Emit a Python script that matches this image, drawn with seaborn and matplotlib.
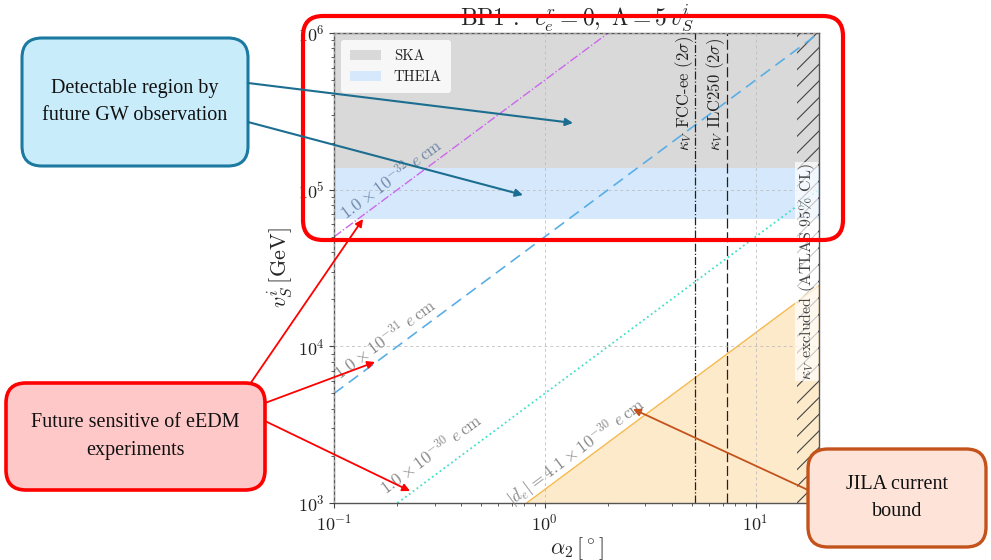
import numpy as np
import pandas as pd
import matplotlib
matplotlib.use('Agg')
import matplotlib.pyplot as plt
import matplotlib.transforms as mtransforms
from matplotlib.patches import FancyBboxPatch, FancyArrowPatch
import seaborn as sns

# axis ranges
alpha_lim = [0.1, 20.0]
vs_lim = [1e3, 1e6]

# GW detectable bands, v_S^i in GeV
ska_band = [1.37e5, 1e6]
theia_band = [6.5e4, 1.37e5]

# future eEDM sensitivity lines (end points)
edm_labels = [r'$1.0 \times 10^{-32}\ e\,\mathrm{cm}$',
              r'$1.0 \times 10^{-31}\ e\,\mathrm{cm}$',
              r'$1.0 \times 10^{-30}\ e\,\mathrm{cm}$']
edm_alpha = [[0.1, 2.0], [0.1, 20.0], [0.2, 20.0]]
edm_vs = [[5e4, 1e6], [5e3, 1e6], [1e3, 1e5]]

# JILA current bound |d_e| = 4.1e-30 e cm
jila_label = r'$|d_e| = 4.1 \times 10^{-30}\ e\,\mathrm{cm}$'
jila_alpha = [0.82, 20.0]
jila_vs = [1e3, 2.44e4]

# kappa_V reach of colliders and ATLAS exclusion (alpha_2 in degrees)
fcc_alpha = 5.15
ilc_alpha = 7.3
atlas_alpha = 15.7


def px_transform(fig):
    # figure pixels, origin top-left
    return mtransforms.Affine2D().scale(0.01, -0.01).translate(0, 5.6) + fig.dpi_scale_trans


def add_box(fig, x0, y0, x1, y1, face, edge, lw, text, fs=14.5):
    tr = px_transform(fig)
    box = FancyBboxPatch((x0, y0), x1 - x0, y1 - y0,
                         boxstyle='round,pad=0,rounding_size=20',
                         fc=face, ec=edge, lw=lw, transform=tr)
    fig.add_artist(box)
    if text:
        fig.text((x0 + x1) / 2, (y0 + y1) / 2, text, transform=tr, ha='center', va='center',
                 fontsize=fs, family='Liberation Serif', linespacing=1.6, color='#111')


def add_arrow(fig, p0, p1, color, lw=1.5):
    fig.add_artist(FancyArrowPatch(p0, p1, transform=px_transform(fig), arrowstyle='-|>',
                                   mutation_scale=11, color=color, lw=lw,
                                   shrinkA=0, shrinkB=0))


def main():
    sns.set_style('ticks')
    plt.rcParams['font.family'] = ['serif']
    plt.rcParams['font.serif'] = ['cmr10', 'DejaVu Serif']
    plt.rcParams['mathtext.fontset'] = 'cm'
    plt.rcParams['axes.formatter.use_mathtext'] = True
    plt.rcParams['axes.unicode_minus'] = False
    plt.rcParams['hatch.linewidth'] = 0.8

    fig = plt.figure(figsize=(9.91, 5.6), dpi=100)
    ax = fig.add_axes([334 / 991, 57 / 560, 485 / 991, 470 / 560])
    ax.set_xscale('log')
    ax.set_yscale('log')

    # GW bands
    ax.fill_between(alpha_lim, ska_band[0], ska_band[1], color='#d9d9d9', lw=0, label='SKA')
    ax.fill_between(alpha_lim, theia_band[0], theia_band[1], color='#d5e8fc', lw=0, label='THEIA')

    # JILA excluded region
    ax.fill_between(jila_alpha, vs_lim[0], jila_vs, color='#fdeacb', lw=0)
    sns.lineplot(x=jila_alpha, y=jila_vs, ax=ax, color='#f6b84a', lw=1.0)

    # eEDM lines
    styles = [dict(color='#cc66ee', ls='-.', lw=1.0),
              dict(color='#5aaee6', ls=(0, (7, 4)), lw=1.2),
              dict(color='#40e0c8', ls=':', lw=1.3)]
    for xs, ys, st in zip(edm_alpha, edm_vs, styles):
        sns.lineplot(x=xs, y=ys, ax=ax, **st)

    rot = 36.6
    lab_pos = [(0.187, 1.17e5), (0.175, 1.12e4), (0.29, 2.05e3)]
    lab_col = ['#6f86a8', '#888888', '#888888']
    for lab, (lx, ly), c in zip(edm_labels, lab_pos, lab_col):
        ax.text(lx, ly, lab, rotation=rot, ha='center', va='center', fontsize=12.5, color=c)
    ax.text(1.42, 2.1e3, jila_label, rotation=rot, ha='center', va='center',
            fontsize=12.5, color='#888888')

    # collider lines
    ax.axvline(fcc_alpha, color='#222', ls='-.', lw=0.9)
    ax.axvline(ilc_alpha, color='#222', ls=(0, (8, 3)), lw=0.9)
    ax.text(4.63, 9.6e5, r'$\kappa_V$ FCC-ee $(2\sigma)$', rotation=90, ha='center', va='top',
            fontsize=12, color='#222')
    ax.text(6.49, 9.3e5, r'$\kappa_V$ ILC250 $(2\sigma)$', rotation=90, ha='center', va='top',
            fontsize=12, color='#222')

    # ATLAS exclusion
    ax.fill_betweenx(vs_lim, atlas_alpha, alpha_lim[1], facecolor='none', edgecolor='#444',
                     hatch='//', lw=0)
    ax.text(17.5, 3.0e4, r'$\kappa_V$ excluded (ATLAS 95$\%$ CL)', rotation=90,
            ha='center', va='center', fontsize=11.5, color='#444',
            bbox=dict(facecolor='white', alpha=0.7, edgecolor='none', pad=1))

    ax.set_xlim(alpha_lim)
    ax.set_ylim(vs_lim)
    ax.set_axisbelow(False)
    ax.grid(True, which='major', ls=(0, (3, 3)), color='#bbbbbb', lw=0.7, alpha=0.8)
    ax.tick_params(which='both', direction='out', colors='#444', labelcolor='#222', labelsize=13)
    for sp in ax.spines.values():
        sp.set_color('#555')
        sp.set_linewidth(1.0)

    ax.set_xlabel(r'$\alpha_2\,[^\circ]$', fontsize=16, labelpad=1)
    ax.set_ylabel(r'$v_S^i\,[\mathrm{GeV}]$', fontsize=16, labelpad=2)
    ax.set_title(r'BP1 :  $c_e^r = 0,\ \Lambda = 5\,v_S^i$', fontsize=17, pad=2)

    ax.legend(loc='upper left', fontsize=10.5, frameon=True, framealpha=0.8,
              edgecolor='none', handlelength=2.1, handletextpad=0.9, borderpad=0.6)

    # presentation annotations
    add_box(fig, 303, 16, 843, 240, 'none', '#ff0000', 3.0, None)
    add_box(fig, 22, 38, 248, 166, '#c9ecfb', '#1c7aa0', 2.2,
            'Detectable region by\nfuture GW observation')
    add_box(fig, 6, 383, 265, 490, '#ffc8c8', '#ff0000', 2.6,
            'Future sensitive of eEDM\nexperiments')
    add_box(fig, 808, 449, 986, 547, '#fde3d8', '#c4531b', 2.4,
            'JILA current\nbound')

    add_arrow(fig, (248, 83), (573, 123), '#1c6e90')
    add_arrow(fig, (248, 122), (523, 195), '#1c6e90')
    add_arrow(fig, (250, 384), (363, 219), '#ff0000', 1.3)
    add_arrow(fig, (265, 403), (375, 362), '#ff0000', 1.3)
    add_arrow(fig, (265, 421), (410, 491), '#ff0000', 1.3)
    add_arrow(fig, (808, 490), (633, 409), '#c4531b', 1.3)

    fig.savefig('out.png', dpi=100)


if __name__ == '__main__':
    main()
